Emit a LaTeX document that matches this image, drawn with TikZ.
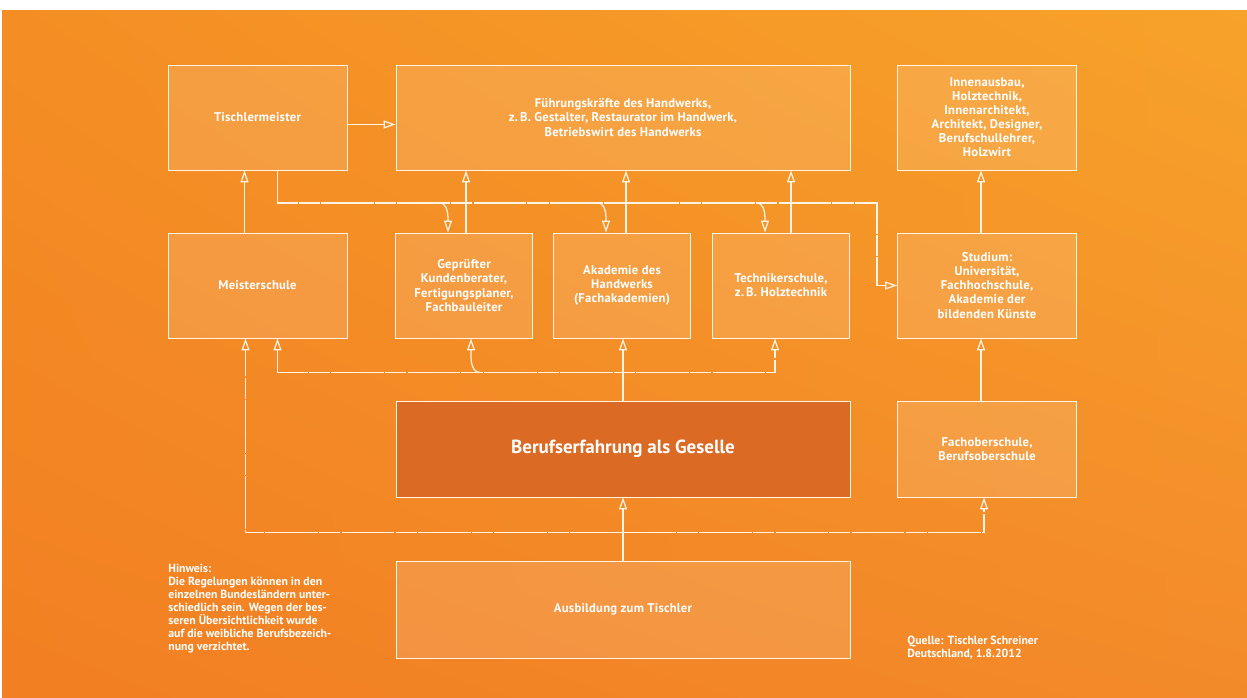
\documentclass[tikz,border=0pt]{standalone}
\usepackage{fontspec}
\setsansfont{PT Sans}
\usepackage{tikz}
\usetikzlibrary{arrows.meta, positioning, calc, shadings}
\definecolor{bgul}{HTML}{F48E24}
\definecolor{bgur}{HTML}{F7A22A}
\definecolor{bgll}{HTML}{F27F22}
\definecolor{bglr}{HTML}{F38A2A}
\definecolor{darkbox}{HTML}{DA6A24}
\definecolor{chalk}{HTML}{FFF4E6}

\begin{document}
\begin{tikzpicture}[
    x=0.02cm, y=-0.02cm,
    box/.style={draw=chalk, line width=0.5pt, fill=white, fill opacity=0.13, text opacity=1, text=white, font=\sffamily\bfseries\fontsize{7.2}{8}\selectfont\addfontfeature{LetterSpace=2}, align=center, inner sep=2pt},
    wide/.style={box, minimum width=3.58cm, minimum height=2.1cm},
    small/.style={box, minimum width=2.74cm, minimum height=2.1cm},
    big/.style={box, minimum width=9.08cm, minimum height=2.1cm},
    link/.style={draw=chalk, line width=0.7pt, -{Triangle[open, length=2.4mm, width=1.6mm]}},
    sketch/.style={dash pattern=on 30pt off 0.6pt on 12pt off 0.8pt},
    note/.style={text=white, font=\sffamily\bfseries\fontsize{6.7}{7.4}\selectfont, align=left, inner sep=0pt},
]
    \useasboundingbox (0,0) rectangle (1247,697);
    % Background
    \shade[upper left=bgul, upper right=bgur, lower left=bgll, lower right=bglr] (2,10) rectangle (1247,697);

    % Top row
    \node[wide] (tm) at (257.5,117.5) {Tischlermeister};
    \node[big] (fk) at (623,117.5) {Führungskräfte des Handwerks,\\z.\,B. Gestalter, Restaurator im Handwerk,\\Betriebswirt des Handwerks};
    \node[wide] (ia) at (987,117.5) {Innenausbau,\\Holztechnik,\\Innenarchitekt,\\Architekt, Designer,\\Berufschullehrer,\\Holzwirt};

    % Middle row
    \node[wide] (ms) at (257.5,285.5) {Meisterschule};
    \node[small] (gk) at (464,285.5) {Geprüfter\\Kundenberater,\\Fertigungsplaner,\\Fachbauleiter};
    \node[small] (ak) at (622,285.5) {Akademie des\\Handwerks\\(Fachakademien)};
    \node[small] (ts) at (781,285.5) {Technikerschule,\\z.\,B. Holztechnik};
    \node[wide] (st) at (987,285.5) {Studium:\\Universität,\\Fachhochschule,\\Akademie der\\bildenden Künste};

    % Lower rows
    \node[big, minimum height=1.92cm, fill=darkbox, fill opacity=1, font=\sffamily\bfseries\fontsize{10.8}{12}\selectfont] (be) at (623,449) {Berufserfahrung als Geselle};
    \node[wide, minimum height=1.92cm] (fo) at (987,449) {Fachoberschule,\\Berufsoberschule};
    \node[big, minimum height=1.94cm] (au) at (623,609.5) {Ausbildung zum Tischler};

    % Connections, top
    \draw[link] ($(tm.east)+(0,7)$) -- ($(fk.west)+(0,7)$);
    \draw[link] ($(ms.north)+(-13,0)$) -- ($(tm.south)+(-13,0)$);
    \coordinate (ubr) at (877,203);
    \draw[link, sketch] ($(tm.south)+(20,0)$) |- (ubr) |- (st.west);
    \foreach \b/\dx in {gk/2, ak/4, ts/10} {
        \draw[link] ($(\b.north)+(-25,-30)$) to[out=0, in=90] ($(\b.north)+(-16,-15)$) -- ($(\b.north)+(-16,0)$);
        \coordinate (u) at ($(\b.north)+(\dx,0)$);
        \draw[link] (u) -- (u |- fk.south);
    }
    \draw[link] ($(st.north)+(-6,0)$) -- ($(ia.south)+(-6,0)$);
    \draw[link] ($(fo.north)+(-6,0)$) -- ($(st.south)+(-6,0)$);

    % Connections, middle
    \draw[link] (be.north) -- (be.north |- ak.south);
    \draw[link, sketch, {Triangle[open, length=2.4mm, width=1.6mm]}-{Triangle[open, length=2.4mm, width=1.6mm]}] ($(ms.south)+(20,0)$) -- ++(0,34) -| ($(ts.south)+(-6,0)$);
    \draw[link] ($(gk.south)+(16,34)$) to[out=180, in=-90] ($(gk.south)+(7,17)$) -- ($(gk.south)+(7,0)$);

    % Connections, bottom
    \draw[link] (au.north) -- (be.south);
    \coordinate (lb) at ($(au.north)+(0,-28)$);
    \draw[link, sketch] (lb) -| ($(ms.south)+(-12,0)$);
    \draw[link, sketch] (lb) -| ($(fo.south)+(-3,0)$);

    % Notes
    \node[note, anchor=north west] (hint) at (168,564) {Hinweis:\\Die Regelungen können in den\\einzelnen Bundesländern unter-\\schiedlich sein. Wegen der bes-\\seren Übersichtlichkeit wurde\\auf die weibliche Berufsbezeich-\\nung verzichtet.};
    \node[note, anchor=north west] (src) at (907,636) {Quelle: Tischler Schreiner\\Deutschland, 1.8.2012};
\end{tikzpicture}
\end{document}
